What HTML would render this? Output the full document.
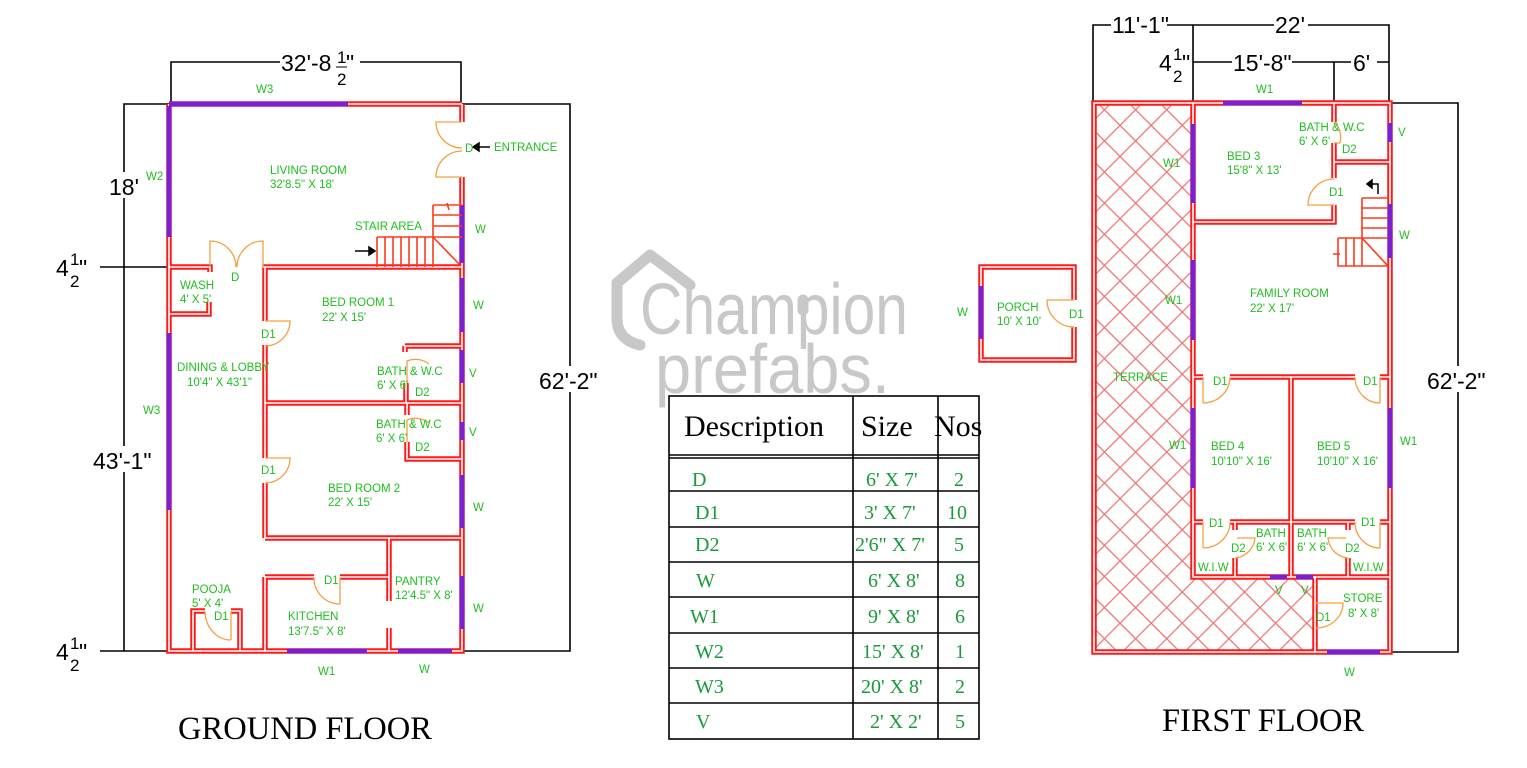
<!DOCTYPE html>
<html><head><meta charset="utf-8"><style>
html,body{margin:0;padding:0;background:#fff;}
svg{display:block;}
.g{fill:#1fbf1f;font-family:"Liberation Sans",sans-serif;font-size:11.5px;}
.dim{fill:#000;font-family:"Liberation Sans",sans-serif;font-size:23px;}
.fr{fill:#000;font-family:"Liberation Sans",sans-serif;font-size:17px;}
.tb{fill:#1a9a3a;font-family:"Liberation Serif",serif;font-size:20px;}
.hd{fill:#000;font-family:"Liberation Serif",serif;font-size:30px;}
.tt{fill:#000;font-family:"Liberation Serif",serif;font-size:32.5px;}
.door{fill:none;stroke:#f5a040;stroke-width:1.3;}
.win{stroke:#7b1fd0;stroke-width:5;fill:none;}
</style></head><body>
<svg width="1527" height="768" viewBox="0 0 1527 768" xmlns="http://www.w3.org/2000/svg">
<defs>
<pattern id="hatch" width="22" height="22" patternUnits="userSpaceOnUse" patternTransform="rotate(45)">
<path d="M0,0 V22 M0,0 H22" stroke="#f07070" stroke-width="2.4" fill="none"/>
</pattern>
<g id="walls" fill="none">
<path d="M169,104 H462 M169,104 V651 H462 V177 M462,104 V122 M169,267 H210 V272 M209,302 V314 H169 M263,267 H462 M265,267 V321 M265,345 V458 M265,483 V538 M265,403 H462 M405,346 H462 M405,346 V352 M406,383 V403 M407,403 V415 M407,442 V459 H462 M265,538 H462 M389,538 V601 M389,628 V651 M265,577 H314 M340,577 H389 M265,577 V651 M193,651 V611 H205 M231,611 H240 V651"/>
<path d="M1094,103 H1390 V652 H1094 Z M1193,103 V577 H1390 M1334,103 V122 M1334,143 V178 M1334,205 V222 H1193 M1334,162 H1390 M1193,377 H1203 M1230,377 H1355 M1380,377 H1390 M1291,377 V577 M1193,522 H1203 M1230,522 H1355 M1380,522 H1390 M1235,522 V530 M1235,558 V577 M1348,522 V530 M1348,558 V577 M1315,577 V652"/>
<path d="M1074,300 V267 H981 V360 H1074 V327"/>
</g>
</defs>
<rect width="1527" height="768" fill="#fff"/>

<!-- watermark -->
<g fill="none" stroke="#c8c8c8" stroke-width="11" stroke-linejoin="round" stroke-linecap="round">
<path d="M640,345 Q618,340 617,320 V283 L650,255 L690,285"/>
<path d="M803,300 V310"/>
</g>
<text x="640" y="334" font-family="Liberation Sans,sans-serif" font-size="72" fill="#c8c8c8" textLength="268" lengthAdjust="spacingAndGlyphs">Champion</text>
<text x="655" y="393" font-family="Liberation Sans,sans-serif" font-size="70" fill="#c8c8c8" textLength="235" lengthAdjust="spacingAndGlyphs">prefabs.</text>

<!-- terrace hatch -->
<path d="M1094,103 H1193 V577 H1315 V652 H1094 Z" fill="url(#hatch)"/>

<!-- dimension lines -->
<g stroke="#000" stroke-width="1.6" fill="none">
<path d="M171,104 V62 H461 V104"/>
<path d="M169,104 H124 V651 M100,267 H169 M100,651 H169"/>
<path d="M462,104 H570 V651 H462"/>
<path d="M1093,103 V25 H1389 V103 M1193,103 V25 M1193,62 H1389 M1334,62 V103"/>
<path d="M1390,103 H1458 V652 H1390"/>
</g>
<rect x="280" y="50" width="80" height="24" fill="#fff"/>
<text class="dim" x="281" y="71">32'-8</text>
<text class="fr" x="337" y="63">1</text><text class="fr" x="337" y="85">2</text>
<path d="M336,67 H347" stroke="#000" stroke-width="1"/>
<text class="dim" x="346" y="71">"</text>
<rect x="108" y="172" width="32" height="26" fill="#fff"/>
<text class="dim" x="109" y="195">18'</text>
<rect x="92" y="446" width="66" height="26" fill="#fff"/>
<text class="dim" x="93" y="469">43'-1"</text>
<g>
<text class="dim" x="56" y="276">4</text><text class="fr" x="70" y="265">1</text><text class="fr" x="70" y="287">2</text><text class="dim" x="79" y="276">"</text>
<text class="dim" x="56" y="660">4</text><text class="fr" x="70" y="649">1</text><text class="fr" x="70" y="671">2</text><text class="dim" x="79" y="660">"</text>
<text class="dim" x="1159" y="71">4</text><text class="fr" x="1173" y="60">1</text><text class="fr" x="1173" y="82">2</text><text class="dim" x="1182" y="71">"</text>
</g>
<rect x="538" y="366" width="70" height="26" fill="#fff"/>
<text class="dim" x="539" y="389">62'-2"</text>
<rect x="1111" y="12" width="56" height="24" fill="#fff"/>
<text class="dim" x="1112" y="33">11'-1"</text>
<rect x="1274" y="12" width="34" height="24" fill="#fff"/>
<text class="dim" x="1275" y="33">22'</text>
<rect x="1232" y="50" width="60" height="24" fill="#fff"/>
<text class="dim" x="1233" y="71">15'-8"</text>
<rect x="1351" y="50" width="26" height="24" fill="#fff"/>
<text class="dim" x="1353" y="71">6'</text>
<rect x="1426" y="366" width="70" height="26" fill="#fff"/>
<text class="dim" x="1427" y="389">62'-2"</text>

<!-- walls -->
<use href="#walls" stroke="#ff1a1a" stroke-width="5.5"/>
<use href="#walls" stroke="#fff" stroke-width="1.6"/>

<!-- windows -->
<g class="win">
<path d="M169,104 H348"/><path d="M169,106 V237"/><path d="M169,333 V510"/>
<path d="M462,205 V263 M462,278 V332 M462,350 V383 M462,422 V440 M462,475 V528 M462,576 V629"/>
<path d="M287,651 H367 M398,651 H452"/>
<path d="M1223,103 H1302"/><path d="M1390,123 V142 M1390,204 V258 M1390,408 V488"/>
<path d="M1193,124 V203 M1193,260 V340 M1193,408 V488"/>
<path d="M1270,577 H1287 M1296,577 H1313 M1327,652 H1380"/>
<path d="M981,286 V339"/>
</g>

<!-- doors -->
<g class="door">
<path d="M462,122 H436 A26,26 0 0 0 462,148"/>
<path d="M462,177 H436 A26,26 0 0 1 462,151"/>
<path d="M210,267 V241 A26,26 0 0 1 236,267"/>
<path d="M263,267 V241 A26,26 0 0 0 237,267"/>
<path d="M265,321 H290 A25,25 0 0 1 265,346"/>
<path d="M265,458 H290 A25,25 0 0 1 265,483"/>
<path d="M407,383 V361 A22,22 0 0 1 429,364"/>
<path d="M407,442 V420 A22,22 0 0 1 429,423"/>
<path d="M340,604 V577 M314,577 A26,26 0 0 0 340,604"/>
<path d="M231,640 V611 M205,611 A26,29 0 0 0 231,640"/>
<path d="M1334,143 H1340 M1334,122 A21,21 0 0 1 1340,143"/>
<path d="M1334,205 H1308 A26,26 0 0 1 1334,179"/>
<path d="M1203,403 V377 M1230,377 A27,26 0 0 1 1203,403"/>
<path d="M1380,403 V377 M1355,377 A25,26 0 0 0 1380,403"/>
<path d="M1203,548 V522 M1230,522 A27,26 0 0 1 1203,548"/>
<path d="M1380,548 V522 M1355,522 A25,26 0 0 0 1380,548"/>
<path d="M1235,558 A22,22 0 0 0 1255,538 H1237"/>
<path d="M1348,558 A22,22 0 0 1 1328,538 H1346"/>
<path d="M1315,603 H1343 A27,25 0 0 1 1316,628"/>
<path d="M1074,300 H1047 A27,27 0 0 0 1074,327"/>
</g>

<!-- stairs -->
<g stroke="#ff3a1a" stroke-width="1.6" fill="none">
<path d="M433,205 H462 M433,205 V267 M433,215 H462 M433,226 H462 M433,237 H462 M447,203 L449,210"/>
<path d="M377,237 H433 M377,237 V267 M385,237 V267 M393,237 V267 M401,237 V267 M409,237 V267 M417,237 V267 M425,237 V267 M433,237 L460,265"/>
<path d="M1362,198 V266 M1362,198 H1388 M1362,208 H1388 M1362,218 H1388 M1362,228 H1388 M1362,238 H1388 M1338,238 H1362 M1338,238 V266 H1388 M1346,238 V266 M1354,238 V266 M1362,238 L1388,266 M1333,254 L1340,254"/>
</g>
<g stroke="#000" stroke-width="1.5" fill="#000">
<path d="M355,251 H372" /><path d="M375,251 L369,247 L369,255 Z"/>
<path d="M490,147 H477"/><path d="M473,147 L479,143 L479,151 Z"/>
<path d="M1378,194 V184 H1370" fill="none"/><path d="M1367,184 L1372,180 L1372,188 Z"/>
</g>

<!-- ground floor labels -->
<g class="g">
<text x="256" y="93">W3</text><text x="146" y="180">W2</text>
<text x="270" y="174">LIVING ROOM</text><text x="270" y="188">32'8.5" X 18'</text>
<text x="465" y="152">D</text><text x="494" y="151">ENTRANCE</text>
<text x="355" y="230">STAIR AREA</text><text x="475" y="233">W</text>
<text x="231" y="281">D</text>
<text x="180" y="289">WASH</text><text x="180" y="303">4' X 5'</text>
<text x="322" y="306">BED ROOM 1</text><text x="322" y="321">22' X 15'</text>
<text x="473" y="309">W</text><text x="261" y="338">D1</text>
<text x="177" y="371">DINING &amp; LOBBY</text><text x="187" y="386">10'4" X 43'1"</text>
<text x="377" y="375">BATH &amp; W.C</text><text x="377" y="389">6' X 6'</text>
<text x="415" y="396">D2</text><text x="469" y="377">V</text>
<text x="143" y="414">W3</text>
<text x="376" y="428">BATH &amp; W.C</text><text x="376" y="442">6' X 6'</text>
<text x="415" y="451">D2</text><text x="469" y="436">V</text>
<text x="261" y="474">D1</text>
<text x="328" y="492">BED ROOM 2</text><text x="328" y="506">22' X 15'</text>
<text x="473" y="511">W</text>
<text x="395" y="585">PANTRY</text><text x="395" y="599">12'4.5" X 8'</text>
<text x="324" y="584">D1</text>
<text x="192" y="593">POOJA</text><text x="192" y="607">5' X 4'</text><text x="214" y="620">D1</text>
<text x="288" y="620">KITCHEN</text><text x="288" y="635">13'7.5" X 8'</text>
<text x="473" y="612">W</text>
<text x="318" y="675">W1</text><text x="419" y="673">W</text>
</g>

<!-- porch labels -->
<g class="g">
<text x="957" y="316">W</text><text x="997" y="311">PORCH</text><text x="997" y="325">10' X 10'</text><text x="1069" y="318">D1</text>
</g>

<!-- first floor labels -->
<g class="g">
<text x="1256" y="93">W1</text>
<text x="1299" y="131">BATH &amp; W.C</text><text x="1299" y="145">6' X 6'</text>
<text x="1342" y="153">D2</text><text x="1398" y="136">V</text>
<text x="1163" y="167">W1</text>
<text x="1227" y="160">BED 3</text><text x="1227" y="174">15'8" X 13'</text>
<text x="1329" y="196">D1</text><text x="1399" y="239">W</text>
<text x="1165" y="304">W1</text>
<text x="1250" y="297">FAMILY ROOM</text><text x="1250" y="312">22' X 17'</text>
<text x="1113" y="381">TERRACE</text>
<text x="1213" y="385">D1</text><text x="1363" y="385">D1</text>
<text x="1169" y="449">W1</text><text x="1400" y="445">W1</text>
<text x="1211" y="450">BED 4</text><text x="1211" y="465">10'10" X 16'</text>
<text x="1317" y="450">BED 5</text><text x="1317" y="465">10'10" X 16'</text>
<text x="1209" y="527">D1</text><text x="1361" y="526">D1</text>
<text x="1256" y="537">BATH</text><text x="1256" y="551">6' X 6'</text>
<text x="1297" y="537">BATH</text><text x="1297" y="551">6' X 6'</text>
<text x="1231" y="552">D2</text><text x="1345" y="552">D2</text>
<text x="1198" y="571">W.I.W</text><text x="1353" y="571">W.I.W</text>
<text x="1275" y="594">V</text><text x="1301" y="594">V</text>
<text x="1343" y="602">STORE</text><text x="1348" y="617">8' X 8'</text>
<text x="1316" y="621">D1</text>
<text x="1344" y="676">W</text>
</g>

<!-- table -->
<g stroke="#000" stroke-width="1.6" fill="none">
<rect x="669" y="396" width="310" height="343"/>
<path d="M853,396 V739 M938,396 V739"/>
<path d="M669,455 H979 M669,458 H979 M669,491 H979 M669,527 H979 M669,562 H979 M669,597 H979 M669,633 H979 M669,668 H979 M669,703 H979"/>
</g>
<text class="hd" x="684" y="436">Description</text>
<text class="hd" x="861" y="436">Size</text>
<text class="hd" x="934" y="436">Nos</text>
<g class="tb">
<text x="692" y="486">D</text><text x="866" y="486">6' X 7'</text><text x="954" y="486">2</text>
<text x="695" y="519">D1</text><text x="864" y="519">3' X 7'</text><text x="947" y="519">10</text>
<text x="695" y="551">D2</text><text x="855" y="551">2'6" X 7'</text><text x="954" y="551">5</text>
<text x="696" y="587">W</text><text x="868" y="587">6' X 8'</text><text x="955" y="587">8</text>
<text x="690" y="623">W1</text><text x="868" y="623">9' X 8'</text><text x="955" y="623">6</text>
<text x="695" y="658">W2</text><text x="862" y="658">15' X 8'</text><text x="955" y="658">1</text>
<text x="695" y="693">W3</text><text x="861" y="693">20' X 8'</text><text x="955" y="693">2</text>
<text x="696" y="728">V</text><text x="870" y="728">2' X 2'</text><text x="955" y="728">5</text>
</g>

<text class="tt" x="178" y="739" textLength="254" lengthAdjust="spacingAndGlyphs">GROUND FLOOR</text>
<text class="tt" x="1162" y="731" textLength="202" lengthAdjust="spacingAndGlyphs">FIRST FLOOR</text>
</svg>
</body></html>
